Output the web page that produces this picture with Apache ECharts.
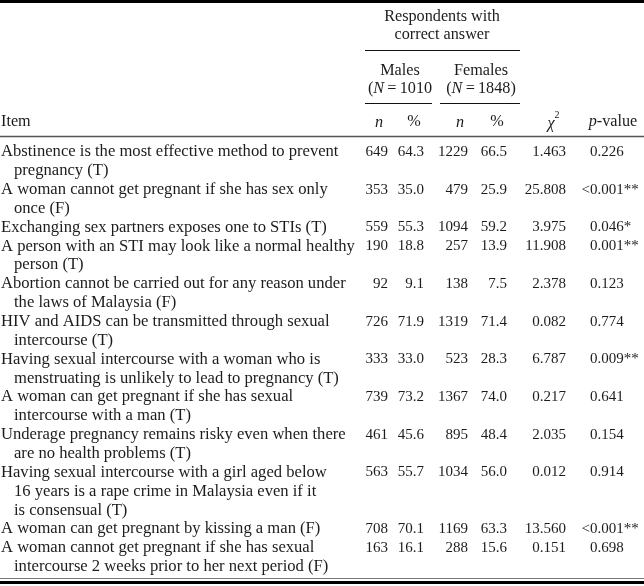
<!DOCTYPE html>
<html>
<head>
<meta charset="utf-8">
<title>Knowledge of sexual and reproductive health by sex</title>
<script src="https://cdn.jsdelivr.net/npm/echarts@6/dist/echarts.min.js"></script>
<style>
  html, body { margin: 0; padding: 0; background: #fff; }
  #main { width: 644px; height: 586px; }
</style>
</head>
<body>
<div id="main"></div>
<script>
// item text, already broken into the printed lines
var items = [
  ["Abstinence is the most effective method to prevent", "pregnancy (T)"],
  ["A woman cannot get pregnant if she has sex only", "once (F)"],
  ["Exchanging sex partners exposes one to STIs (T)"],
  ["A person with an STI may look like a normal healthy", "person (T)"],
  ["Abortion cannot be carried out for any reason under", "the laws of Malaysia (F)"],
  ["HIV and AIDS can be transmitted through sexual", "intercourse (T)"],
  ["Having sexual intercourse with a woman who is", "menstruating is unlikely to lead to pregnancy (T)"],
  ["A woman can get pregnant if she has sexual", "intercourse with a man (T)"],
  ["Underage pregnancy remains risky even when there", "are no health problems (T)"],
  ["Having sexual intercourse with a girl aged below", "16 years is a rape crime in Malaysia even if it", "is consensual (T)"],
  ["A woman can get pregnant by kissing a man (F)"],
  ["A woman cannot get pregnant if she has sexual", "intercourse 2 weeks prior to her next period (F)"]
];
var maleN = [649, 353, 559, 190, 92, 726, 333, 739, 461, 563, 708, 163];
var malePct = [64.3, 35.0, 55.3, 18.8, 9.1, 71.9, 33.0, 73.2, 45.6, 55.7, 70.1, 16.1];
var femaleN = [1229, 479, 1094, 257, 138, 1319, 523, 1367, 895, 1034, 1169, 288];
var femalePct = [66.5, 25.9, 59.2, 13.9, 7.5, 71.4, 28.3, 74.0, 48.4, 56.0, 63.3, 15.6];
var chiSq = [1.463, 25.808, 3.975, 11.908, 2.378, 0.082, 6.787, 0.217, 2.035, 0.012, 13.560, 0.151];
var pPrefix = ["", "<", "", "", "", "", "", "", "", "", "<", ""];
var pValue = ["0.226", "0.001**", "0.046*", "0.001**", "0.123", "0.774", "0.009**", "0.641", "0.154", "0.914", "0.001**", "0.698"];
var totals = { males: 1010, females: 1848 };

var FONT = '"Liberation Serif", "Times New Roman", serif';
var TEXT_SIZE = 16.6;   // item wording
var HEAD_SIZE = 16.2;   // column headings
var NUM_SIZE = 15;      // figures
var INK = '#1c1c1c';

// column anchors (x in px) and line layout
var col = { item: 1, indent: 14, mN: 388, mP: 424, fN: 468, fP: 507, chi: 566, p: 590 };
var firstY = 152, lineH = 18.85;

var cells = [];
var y0 = firstY;
items.forEach(function (lines, r) {
  lines.forEach(function (t, k) {
    cells.push([k ? col.indent : col.item, y0 + k * lineH, t, 'left', TEXT_SIZE]);
  });
  cells.push([col.mN, y0, String(maleN[r]), 'right', NUM_SIZE]);
  cells.push([col.mP, y0, malePct[r].toFixed(1), 'right', NUM_SIZE]);
  cells.push([col.fN, y0, String(femaleN[r]), 'right', NUM_SIZE]);
  cells.push([col.fP, y0, femalePct[r].toFixed(1), 'right', NUM_SIZE]);
  cells.push([col.chi, y0, chiSq[r].toFixed(3), 'right', NUM_SIZE]);
  if (pPrefix[r]) cells.push([col.p, y0, pPrefix[r], 'right', NUM_SIZE]);
  cells.push([col.p, y0, pValue[r], 'left', NUM_SIZE]);
  y0 += lines.length * lineH;
});

function txt(x, y, text, align, extra) {
  var style = { text: text, x: x, y: y, fill: INK, font: HEAD_SIZE + 'px ' + FONT,
    align: align || 'center', verticalAlign: 'middle' };
  if (extra) for (var k in extra) style[k] = extra[k];
  return { type: 'text', silent: true, style: style };
}
function rule(x1, x2, y, w, c) {
  return { type: 'line', silent: true, shape: { x1: x1, y1: y, x2: x2, y2: y },
    style: { stroke: c || '#111', lineWidth: w } };
}
var italic = { i: { fontStyle: 'italic', fontSize: HEAD_SIZE, fontFamily: FONT, fill: INK } };

var header = [
  rule(0, 644, 1.5, 3, '#000'),
  txt(442, 17, 'Respondents with'),
  txt(442, 35, 'correct answer'),
  rule(365, 520, 50.5, 1.2),
  txt(400, 71, 'Males'),
  txt(400, 89, '({i|N}\u2009=\u2009' + totals.males, 'center', { rich: italic }),
  txt(481, 71, 'Females'),
  txt(481, 89, '({i|N}\u2009=\u2009' + totals.females + ')', 'center', { rich: italic }),
  rule(365, 432, 103.5, 1.2),
  rule(440, 520, 103.5, 1.2),
  txt(1, 122, 'Item', 'left'),
  txt(379, 123, '{i|n}', 'center', { rich: italic }),
  txt(414, 122, '%'),
  txt(460, 123, '{i|n}', 'center', { rich: italic }),
  txt(497, 122, '%'),
  txt(551, 124, '{i|\u03c7}', 'center', { rich: italic }),
  txt(557, 115, '2', 'center', { font: '10px ' + FONT }),
  txt(613, 122, '{i|p}-value', 'center', { rich: italic }),
  rule(0, 644, 136.5, 1.3, '#555'),
  rule(0, 644, 578.5, 1, '#777'),
  rule(0, 644, 582.5, 3, '#000')
];

var chart = echarts.init(document.getElementById('main'), null, { renderer: 'canvas' });
chart.setOption({
  animation: false,
  backgroundColor: '#fff',
  grid: { left: 0, right: 0, top: 0, bottom: 0 },
  xAxis: { type: 'value', min: 0, max: 644, show: false },
  yAxis: { type: 'value', min: 0, max: 586, inverse: true, show: false },
  graphic: header,
  series: [{
    type: 'custom',
    data: cells.map(function (c) { return [c[0], c[1]]; }),
    renderItem: function (params, api) {
      var c = cells[params.dataIndex];
      var pt = api.coord([api.value(0), api.value(1)]);
      return {
        type: 'text',
        x: pt[0], y: pt[1],
        style: { text: c[2], fill: INK, font: c[4] + 'px ' + FONT, align: c[3], verticalAlign: 'middle' }
      };
    }
  }]
});
</script>
</body>
</html>
